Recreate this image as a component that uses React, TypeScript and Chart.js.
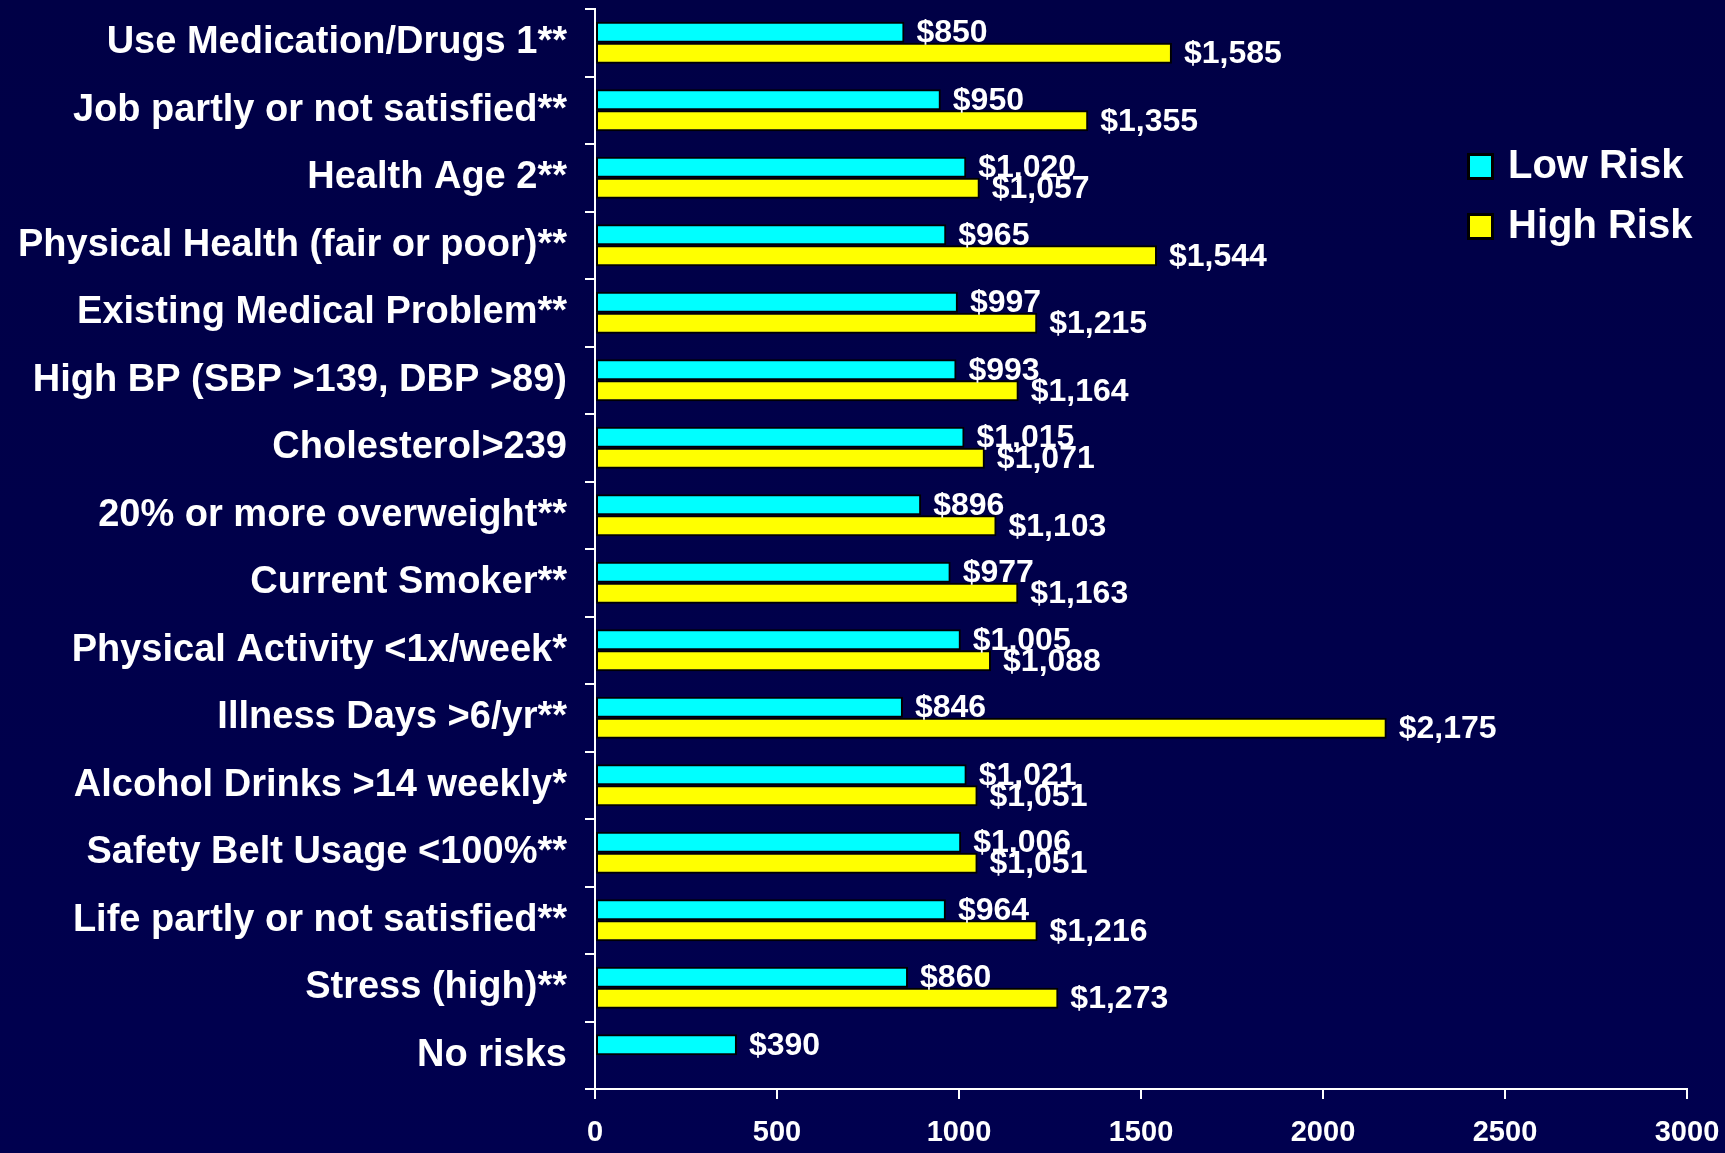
import React, { useEffect, useRef } from "react";
import { Chart, registerables } from "chart.js";

Chart.register(...registerables);

const categories = [
  "Use Medication/Drugs 1**",
  "Job partly or not satisfied**",
  "Health Age 2**",
  "Physical Health (fair or poor)**",
  "Existing Medical Problem**",
  "High BP (SBP >139, DBP >89)",
  "Cholesterol>239",
  "20% or more overweight**",
  "Current Smoker**",
  "Physical Activity <1x/week*",
  "Illness Days >6/yr**",
  "Alcohol Drinks >14 weekly*",
  "Safety Belt Usage <100%**",
  "Life partly or not satisfied**",
  "Stress (high)**",
  "No risks",
];

const lowRisk = [850, 950, 1020, 965, 997, 993, 1015, 896, 977, 1005, 846, 1021, 1006, 964, 860, 390];
const highRisk = [1585, 1355, 1057, 1544, 1215, 1164, 1071, 1103, 1163, 1088, 2175, 1051, 1051, 1216, 1273, null];

const seriesNames = ["Low Risk", "High Risk"];
const seriesColors = ["#00FFFF", "#FFFF00"];
const xTicks = [0, 500, 1000, 1500, 2000, 2500, 3000];

const FONT = "'Liberation Sans', Arial, Helvetica, sans-serif";

const valueLabelPlugin = {
  id: "valueLabels",
  afterDatasetsDraw(chart: any) {
    const ctx = chart.ctx;
    ctx.save();
    ctx.font = `bold 32px ${FONT}`;
    ctx.fillStyle = "#FFFFFF";
    ctx.textAlign = "left";
    ctx.textBaseline = "middle";
    chart.data.datasets.forEach((ds: any, di: number) => {
      const meta = chart.getDatasetMeta(di);
      meta.data.forEach((bar: any, i: number) => {
        const v = ds.data[i];
        if (v === null || v === undefined) return;
        const text = "$" + Number(v).toLocaleString("en-US");
        ctx.fillText(text, bar.x + 12, bar.y + 1);
      });
    });
    ctx.restore();
  },
};

const legendPlugin = {
  id: "customLegend",
  afterDraw(chart: any) {
    const ctx = chart.ctx;
    ctx.save();
    ctx.font = `bold 40px ${FONT}`;
    ctx.textAlign = "left";
    ctx.textBaseline = "middle";
    const boxX = 1468;
    const ys = [166, 226];
    chart.data.datasets.forEach((ds: any, di: number) => {
      const y = ys[di];
      ctx.fillStyle = "#000000";
      ctx.fillRect(boxX - 1, y - 13, 27, 27);
      ctx.fillStyle = ds.backgroundColor;
      ctx.fillRect(boxX + 2, y - 10, 21, 21);
      ctx.fillStyle = "#FFFFFF";
      ctx.fillText(ds.label, boxX + 40, y + 1);
    });
    ctx.restore();
  },
};

export default function App() {
  const canvasRef = useRef<HTMLCanvasElement | null>(null);

  useEffect(() => {
    document.body.style.margin = "0";
    const canvas = canvasRef.current;
    if (!canvas) return;
    const chart = new Chart(canvas, {
      type: "bar",
      data: {
        labels: categories,
        datasets: [
          {
            label: seriesNames[0],
            data: lowRisk,
            backgroundColor: seriesColors[0],
            borderColor: "#000000",
            borderWidth: 2,
            borderSkipped: false,
            categoryPercentage: 0.62,
            barPercentage: 1.0,
          },
          {
            label: seriesNames[1],
            data: highRisk as any,
            backgroundColor: seriesColors[1],
            borderColor: "#000000",
            borderWidth: 2,
            borderSkipped: false,
            categoryPercentage: 0.62,
            barPercentage: 1.0,
          },
        ],
      },
      options: {
        indexAxis: "y",
        animation: false,
        responsive: false,
        maintainAspectRatio: false,
        devicePixelRatio: 1,
        layout: { padding: { left: 0, right: 38, top: 9, bottom: 0 } },
        plugins: {
          legend: { display: false },
          tooltip: { enabled: false },
        },
        scales: {
          x: {
            type: "linear",
            min: 0,
            max: 3000,
            afterBuildTicks(scale: any) {
              scale.ticks = xTicks.map((v) => ({ value: v }));
            },
            afterFit(scale: any) {
              scale.height = 1153 - 1089;
              scale.paddingLeft = 0;
              scale.paddingRight = 0;
            },
            ticks: {
              color: "#FFFFFF",
              font: { family: FONT, size: 29, weight: "bold" },
              padding: 17,
              callback: (v: any) => String(v),
            },
            grid: {
              drawOnChartArea: false,
              drawTicks: true,
              tickLength: 10,
              color: "#FFFFFF",
              lineWidth: 2,
            },
            border: { display: true, color: "#FFFFFF", width: 2 },
          },
          y: {
            type: "category",
            afterFit(scale: any) {
              scale.width = 595;
              scale.paddingTop = 0;
              scale.paddingBottom = 0;
            },
            ticks: {
              color: "#FFFFFF",
              font: { family: FONT, size: 38, weight: "bold" },
              padding: 18,
              autoSkip: false,
            },
            grid: {
              offset: true,
              drawOnChartArea: false,
              drawTicks: true,
              tickLength: 10,
              color: "#FFFFFF",
              lineWidth: 2,
            },
            border: { display: true, color: "#FFFFFF", width: 2 },
          },
        },
      },
      plugins: [valueLabelPlugin, legendPlugin],
    });
    return () => chart.destroy();
  }, []);

  return (
    <div
      style={{
        position: "fixed",
        left: 0,
        top: 0,
        width: 1725,
        height: 1153,
        background: "linear-gradient(180deg, #000046 0%, #00004f 100%)",
      }}
    >
      <canvas ref={canvasRef} width={1725} height={1153} style={{ display: "block", width: 1725, height: 1153 }} />
    </div>
  );
}
